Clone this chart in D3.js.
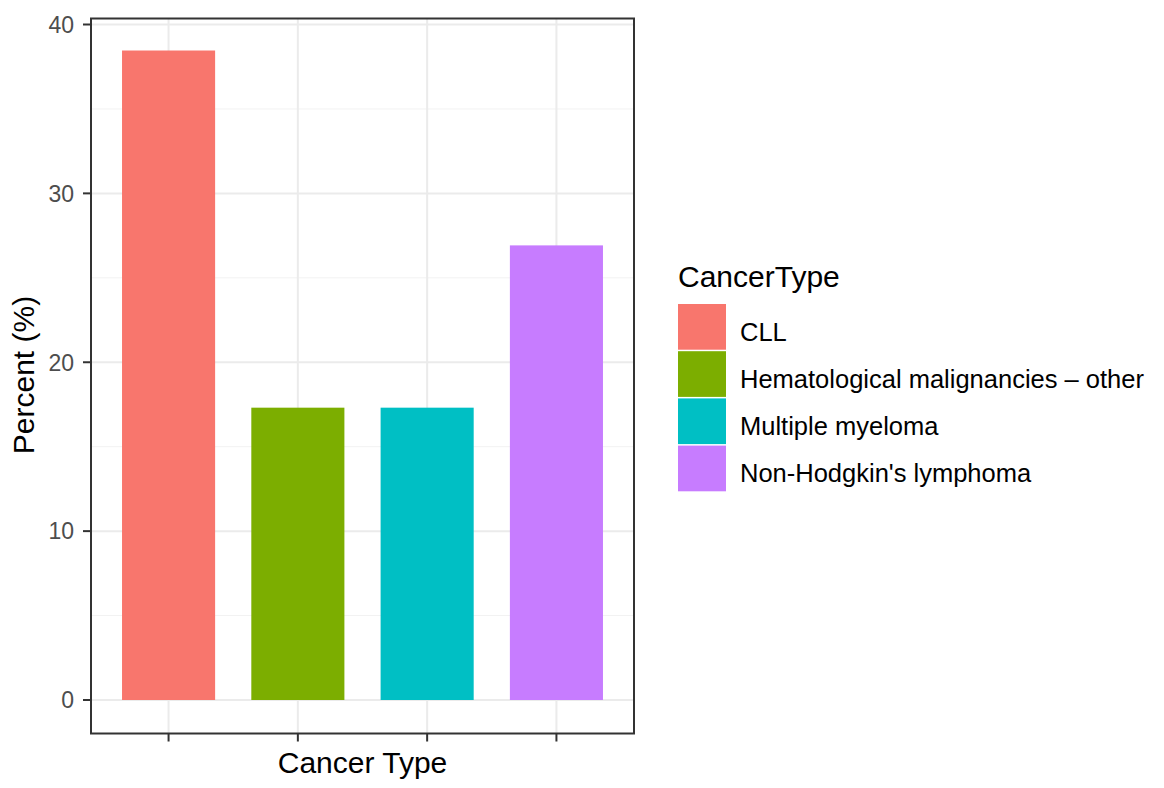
<!DOCTYPE html>
<html><head><meta charset="utf-8">
<script src="https://cdn.jsdelivr.net/npm/d3@7"></script>
<style>body{margin:0;background:#fff}svg{display:block;font-family:"Liberation Sans",Arial,sans-serif}</style>
</head><body>
<script>
const categories = ["CLL","Hematological malignancies \u2013 other","Multiple myeloma","Non-Hodgkin's lymphoma"];
const values = [38.46, 17.31, 17.31, 26.92];
const colors = ["#F8766D","#7CAE00","#00BFC4","#C77CFF"];
const yTicks = [0,10,20,30,40];
const yMinor = [5,15,25,35];

const W=1164,H=788;
const svg=d3.select("body").append("svg").attr("width",W).attr("height",H);
const L=91,R=634,T=18.5,B=733.5;
// ggplot-style discrete axis: 0.6 unit expansion each side
const step=(R-L)/(categories.length-1+1.2);
const x=d3.scalePoint().domain(categories).range([L+0.6*step,R-0.6*step]);
const y=d3.scaleLinear().domain([0,40]).range([700,24.5]);
const bw=0.72*step;

const g=svg.append("g");
g.selectAll(".mn").data(yMinor).join("line").attr("x1",L).attr("x2",R).attr("y1",d=>y(d)).attr("y2",d=>y(d)).attr("stroke","#f2f2f2").attr("stroke-width",1);
g.selectAll(".mj").data(yTicks).join("line").attr("x1",L).attr("x2",R).attr("y1",d=>y(d)).attr("y2",d=>y(d)).attr("stroke","#ebebeb").attr("stroke-width",2);
g.selectAll(".vx").data(categories).join("line").attr("x1",d=>x(d)).attr("x2",d=>x(d)).attr("y1",T).attr("y2",B).attr("stroke","#ebebeb").attr("stroke-width",2);
g.selectAll(".bar").data(categories).join("rect").attr("x",d=>x(d)-bw/2).attr("width",bw)
 .attr("y",(d,i)=>y(values[i])).attr("height",(d,i)=>y(0)-y(values[i])).attr("fill",(d,i)=>colors[i]);
svg.append("rect").attr("x",L).attr("y",T).attr("width",R-L).attr("height",B-T).attr("fill","none").attr("stroke","#333").attr("stroke-width",2);
const yt=svg.append("g");
yt.selectAll("line").data(yTicks).join("line").attr("x1",L-8).attr("x2",L).attr("y1",d=>y(d)).attr("y2",d=>y(d)).attr("stroke","#333").attr("stroke-width",2);
yt.selectAll("text").data(yTicks).join("text").attr("x",74).attr("y",d=>y(d)).attr("dy","0.36em").attr("text-anchor","end")
 .attr("font-size",23).attr("fill","#4d4d4d").text(d=>d);
svg.append("g").selectAll("line").data(categories).join("line").attr("x1",d=>x(d)).attr("x2",d=>x(d)).attr("y1",B).attr("y2",B+8).attr("stroke","#333").attr("stroke-width",2);
svg.append("text").attr("x",(L+R)/2).attr("y",773).attr("text-anchor","middle").attr("font-size",30).attr("fill","#000").text("Cancer Type");
svg.append("text").attr("transform",`translate(34,375) rotate(-90)`).attr("text-anchor","middle").attr("font-size",30).attr("fill","#000").text("Percent (%)");
const lg=svg.append("g");
lg.append("text").attr("x",678).attr("y",287).attr("font-size",30).attr("fill","#000").text("CancerType");
const ky=304,kh=47.2;
lg.selectAll("rect").data(categories).join("rect").attr("x",678).attr("y",(d,i)=>ky+i*kh).attr("width",48).attr("height",kh-1.5).attr("fill",(d,i)=>colors[i]);
lg.selectAll(".lt").data(categories).join("text").attr("x",740).attr("y",(d,i)=>ky+i*kh+kh/2+13).attr("font-size",25.5).attr("fill","#000").text(d=>d);
</script>
</body></html>
